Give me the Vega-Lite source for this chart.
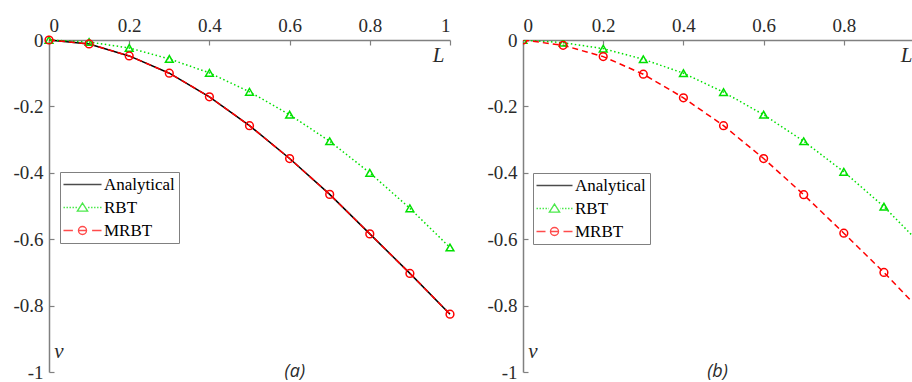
{
  "$schema": "https://vega.github.io/schema/vega-lite/v6.json",
  "background": "white",
  "padding": {"left": 12, "top": 16, "right": 0, "bottom": 0},
  "datasets": {
    "a": [
      {"L": 0, "v": 0, "series": "Analytical"},
      {"L": 0.1, "v": -0.012, "series": "Analytical"},
      {"L": 0.2, "v": -0.048, "series": "Analytical"},
      {"L": 0.3, "v": -0.1, "series": "Analytical"},
      {"L": 0.4, "v": -0.171, "series": "Analytical"},
      {"L": 0.5, "v": -0.258, "series": "Analytical"},
      {"L": 0.6, "v": -0.357, "series": "Analytical"},
      {"L": 0.7, "v": -0.465, "series": "Analytical"},
      {"L": 0.8, "v": -0.584, "series": "Analytical"},
      {"L": 0.9, "v": -0.703, "series": "Analytical"},
      {"L": 1.0, "v": -0.826, "series": "Analytical"},
      {"L": 0, "v": 0, "series": "RBT"},
      {"L": 0.1, "v": -0.006, "series": "RBT"},
      {"L": 0.2, "v": -0.024, "series": "RBT"},
      {"L": 0.3, "v": -0.057, "series": "RBT"},
      {"L": 0.4, "v": -0.099, "series": "RBT"},
      {"L": 0.5, "v": -0.156, "series": "RBT"},
      {"L": 0.6, "v": -0.225, "series": "RBT"},
      {"L": 0.7, "v": -0.305, "series": "RBT"},
      {"L": 0.8, "v": -0.4, "series": "RBT"},
      {"L": 0.9, "v": -0.507, "series": "RBT"},
      {"L": 1.0, "v": -0.625, "series": "RBT"},
      {"L": 0, "v": 0, "series": "MRBT"},
      {"L": 0.1, "v": -0.012, "series": "MRBT"},
      {"L": 0.2, "v": -0.048, "series": "MRBT"},
      {"L": 0.3, "v": -0.1, "series": "MRBT"},
      {"L": 0.4, "v": -0.171, "series": "MRBT"},
      {"L": 0.5, "v": -0.258, "series": "MRBT"},
      {"L": 0.6, "v": -0.357, "series": "MRBT"},
      {"L": 0.7, "v": -0.465, "series": "MRBT"},
      {"L": 0.8, "v": -0.584, "series": "MRBT"},
      {"L": 0.9, "v": -0.703, "series": "MRBT"},
      {"L": 1.0, "v": -0.826, "series": "MRBT"}
    ],
    "b": [
      {"L": 0, "v": 0, "series": "RBT"},
      {"L": 0.1, "v": -0.008, "series": "RBT"},
      {"L": 0.2, "v": -0.026, "series": "RBT"},
      {"L": 0.3, "v": -0.058, "series": "RBT"},
      {"L": 0.4, "v": -0.1, "series": "RBT"},
      {"L": 0.5, "v": -0.157, "series": "RBT"},
      {"L": 0.6, "v": -0.225, "series": "RBT"},
      {"L": 0.7, "v": -0.305, "series": "RBT"},
      {"L": 0.8, "v": -0.397, "series": "RBT"},
      {"L": 0.9, "v": -0.502, "series": "RBT"},
      {"L": 1.0, "v": -0.625, "series": "RBT"},
      {"L": 0, "v": 0, "series": "MRBT"},
      {"L": 0.1, "v": -0.016, "series": "MRBT"},
      {"L": 0.2, "v": -0.05, "series": "MRBT"},
      {"L": 0.3, "v": -0.103, "series": "MRBT"},
      {"L": 0.4, "v": -0.174, "series": "MRBT"},
      {"L": 0.5, "v": -0.258, "series": "MRBT"},
      {"L": 0.6, "v": -0.357, "series": "MRBT"},
      {"L": 0.7, "v": -0.466, "series": "MRBT"},
      {"L": 0.8, "v": -0.582, "series": "MRBT"},
      {"L": 0.9, "v": -0.7, "series": "MRBT"},
      {"L": 1.0, "v": -0.826, "series": "MRBT"}
    ],
    "labels": [
      {"panel": "a", "L": 0.613, "v": -1, "text": "(a)"},
      {"panel": "b", "L": 0.485, "v": -1, "text": "(b)"}
    ]
  },
  "config": {
    "view": {"stroke": null},
    "axis": {
      "grid": false,
      "domainColor": "#808080",
      "domainWidth": 1.5,
      "tickColor": "#808080",
      "tickWidth": 1.2,
      "labelFont": "Liberation Serif",
      "labelFontSize": 19,
      "labelColor": "#2a2a2a",
      "titleFont": "Liberation Serif",
      "titleFontStyle": "italic",
      "titleFontWeight": "normal",
      "titleFontSize": 21,
      "titleColor": "#2a2a2a"
    }
  },
  "spacing": 29,
  "resolve": {
    "scale": {"color": "independent", "shape": "independent"},
    "legend": {"color": "independent", "shape": "independent"}
  },
  "hconcat": [
    {
      "width": 401,
      "height": 332,
      "data": {"name": "a"},
      "encoding": {
        "x": {
          "field": "L", "type": "quantitative",
          "scale": {"domain": [0, 1], "nice": false, "zero": false},
          "axis": {
            "orient": "top", "values": [0, 0.2, 0.4, 0.6, 0.8, 1],
            "labelExpr": "format(datum.value, '~g')",
            "tickSize": -5, "labelPadding": 10,
            "title": "L", "titleX": 389, "titleY": 15, "titleAngle": 0,
            "titleAlign": "center", "titleBaseline": "middle"
          }
        },
        "y": {
          "field": "v", "type": "quantitative",
          "scale": {"domain": [-1, 0], "nice": false, "zero": false},
          "axis": {
            "values": [-1, -0.8, -0.6, -0.4, -0.2, 0],
            "labelExpr": "datum.value < 0 ? '-' + format(-datum.value, '~g') : '0'",
            "tickSize": -5, "labelPadding": 11,
            "title": "v", "titleX": 9.5, "titleY": 311, "titleAngle": 0,
            "titleAlign": "center", "titleBaseline": "middle"
          }
        }
      },
      "layer": [
        {
          "transform": [{"filter": "datum.series == 'Analytical'"}],
          "mark": {"type": "line", "color": "#000000", "strokeWidth": 1.5}
        },
        {
          "transform": [{"filter": "datum.series == 'RBT'"}],
          "mark": {"type": "line", "color": "#00e000", "strokeWidth": 1.5, "strokeDash": [1.5, 2.5]}
        },
        {
          "transform": [{"filter": "datum.series == 'MRBT'"}],
          "mark": {"type": "line", "color": "#ff0000", "strokeWidth": 1.5, "strokeDash": [6, 4]}
        },
        {
          "transform": [{"filter": "datum.series == 'RBT'"}],
          "mark": {"type": "point", "shape": "triangle-up", "filled": false, "color": "#00e000", "size": 60, "strokeWidth": 1.5, "opacity": 1}
        },
        {
          "transform": [{"filter": "datum.series == 'MRBT'"}],
          "mark": {"type": "point", "shape": "circle", "filled": false, "color": "#ff0000", "size": 60, "strokeWidth": 1.5, "opacity": 1}
        },
        {
          "transform": [{"filter": "false"}],
          "mark": {"type": "point", "filled": false, "strokeWidth": 1.4},
          "encoding": {
            "color": {
              "field": "series", "type": "nominal",
              "scale": {"domain": ["Analytical", "RBT", "MRBT"], "range": ["#000000", "#00e000", "#ff0000"]},
              "legend": {"orient": "none", "legendX": 11, "legendY": 132, "title": null, "labelFont": "Liberation Serif", "labelFontSize": 17, "labelColor": "#000000", "symbolSize": 144, "symbolStrokeWidth": 1.4, "symbolOffset": 10, "labelOffset": 13, "strokeColor": "#808080", "fillColor": "white", "padding": 4, "rowPadding": 5}
            },
            "shape": {
              "field": "series", "type": "nominal",
              "scale": {"domain": ["Analytical", "RBT", "MRBT"], "range": [
                "M-3.17,0L3.17,0",
                "M-3.17,0L-2.92,0M-2.67,0L-2.42,0M-2.17,0L-1.92,0M-1.67,0L-1.42,0M-1.17,0L-0.92,0M0.92,0L1.17,0M1.42,0L1.67,0M1.92,0L2.17,0M2.42,0L2.67,0M2.92,0L3.17,0M0,-0.75L0.85,0.6L-0.85,0.6Z",
                "M-3.17,0L-1.6,0M-0.67,0L0.67,0M1.6,0L3.17,0M0.67,0A0.67,0.67 0 1,1 -0.67,0A0.67,0.67 0 1,1 0.67,0Z"
              ]},
              "legend": {"orient": "none", "legendX": 11, "legendY": 132, "title": null, "labelFont": "Liberation Serif", "labelFontSize": 17, "labelColor": "#000000", "symbolSize": 144, "symbolStrokeWidth": 1.4, "symbolOffset": 10, "labelOffset": 13, "strokeColor": "#808080", "fillColor": "white", "padding": 4, "rowPadding": 5}
            }
          }
        },
        {
          "data": {"name": "labels"},
          "transform": [{"filter": "datum.panel == 'a'"}],
          "mark": {"type": "text", "font": "Open Sans", "fontStyle": "italic", "fontSize": 18, "color": "#2a2a2a", "baseline": "middle", "align": "center"},
          "encoding": {"text": {"field": "text"}}
        }
      ]
    },
    {
      "width": 389,
      "height": 332,
      "data": {"name": "b"},
      "encoding": {
        "x": {
          "field": "L", "type": "quantitative",
          "scale": {"domain": [0, 0.97], "nice": false, "zero": false},
          "axis": {
            "orient": "top", "values": [0, 0.2, 0.4, 0.6, 0.8],
            "labelExpr": "format(datum.value, '~g')",
            "tickSize": -5, "labelPadding": 10,
            "title": "L", "titleX": 383, "titleY": 15, "titleAngle": 0,
            "titleAlign": "center", "titleBaseline": "middle"
          }
        },
        "y": {
          "field": "v", "type": "quantitative",
          "scale": {"domain": [-1, 0], "nice": false, "zero": false},
          "axis": {
            "values": [-1, -0.8, -0.6, -0.4, -0.2, 0],
            "labelExpr": "datum.value < 0 ? '-' + format(-datum.value, '~g') : '0'",
            "tickSize": -5, "labelPadding": 11,
            "title": "v", "titleX": 9.5, "titleY": 311, "titleAngle": 0,
            "titleAlign": "center", "titleBaseline": "middle"
          }
        }
      },
      "layer": [
        {
          "transform": [{"filter": "datum.series == 'RBT'"}],
          "mark": {"type": "line", "color": "#00e000", "strokeWidth": 1.5, "strokeDash": [1.5, 2.5], "clip": true}
        },
        {
          "transform": [{"filter": "datum.series == 'MRBT'"}],
          "mark": {"type": "line", "color": "#ff0000", "strokeWidth": 1.5, "strokeDash": [6, 4], "clip": true}
        },
        {
          "transform": [{"filter": "datum.series == 'RBT'"}],
          "mark": {"type": "point", "shape": "triangle-up", "filled": false, "color": "#00e000", "size": 60, "strokeWidth": 1.5, "opacity": 1, "clip": true}
        },
        {
          "transform": [{"filter": "datum.series == 'MRBT'"}],
          "mark": {"type": "point", "shape": "circle", "filled": false, "color": "#ff0000", "size": 60, "strokeWidth": 1.5, "opacity": 1, "clip": true}
        },
        {
          "transform": [{"filter": "false"}],
          "mark": {"type": "point", "filled": false, "strokeWidth": 1.4},
          "encoding": {
            "color": {
              "field": "series", "type": "nominal",
              "scale": {"domain": ["Analytical", "RBT", "MRBT"], "range": ["#000000", "#00e000", "#ff0000"]},
              "legend": {"orient": "none", "legendX": 10, "legendY": 133, "title": null, "labelFont": "Liberation Serif", "labelFontSize": 17, "labelColor": "#000000", "symbolSize": 144, "symbolStrokeWidth": 1.4, "symbolOffset": 9, "labelOffset": 12, "strokeColor": "#808080", "fillColor": "white", "padding": 4, "rowPadding": 5}
            },
            "shape": {
              "field": "series", "type": "nominal",
              "scale": {"domain": ["Analytical", "RBT", "MRBT"], "range": [
                "M-3.0,0L3.0,0",
                "M-3.0,0L-2.75,0M-2.5,0L-2.25,0M-2.0,0L-1.75,0M-1.5,0L-1.25,0M-1.0,0L-0.92,0M0.92,0L1.0,0M1.25,0L1.5,0M1.75,0L2.0,0M2.25,0L2.5,0M2.75,0L3.0,0M0,-0.75L0.85,0.6L-0.85,0.6Z",
                "M-3.0,0L-1.5,0M-0.67,0L0.67,0M1.5,0L3.0,0M0.67,0A0.67,0.67 0 1,1 -0.67,0A0.67,0.67 0 1,1 0.67,0Z"
              ]},
              "legend": {"orient": "none", "legendX": 10, "legendY": 133, "title": null, "labelFont": "Liberation Serif", "labelFontSize": 17, "labelColor": "#000000", "symbolSize": 144, "symbolStrokeWidth": 1.4, "symbolOffset": 9, "labelOffset": 12, "strokeColor": "#808080", "fillColor": "white", "padding": 4, "rowPadding": 5}
            }
          }
        },
        {
          "data": {"name": "labels"},
          "transform": [{"filter": "datum.panel == 'b'"}],
          "mark": {"type": "text", "font": "Open Sans", "fontStyle": "italic", "fontSize": 18, "color": "#2a2a2a", "baseline": "middle", "align": "center"},
          "encoding": {"text": {"field": "text"}}
        }
      ]
    }
  ]
}
